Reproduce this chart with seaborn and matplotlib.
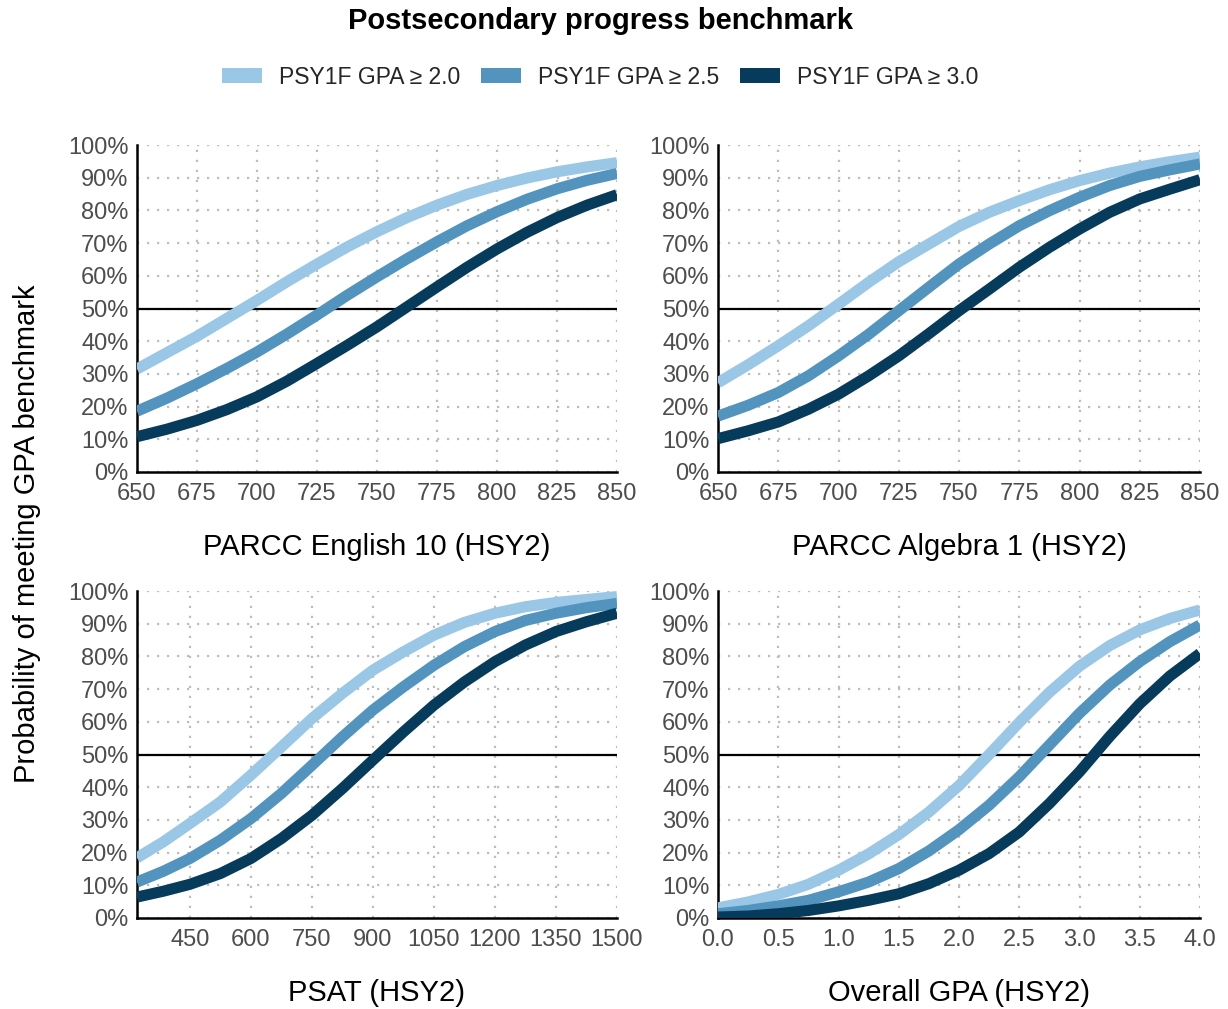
import matplotlib
matplotlib.use("Agg")
import matplotlib.pyplot as plt
import numpy as np
import pandas as pd
import seaborn as sns
from matplotlib.patches import Patch
from matplotlib.ticker import FuncFormatter

# ---------------- data ----------------
series_names = ["PSY1F GPA \u2265 2.0", "PSY1F GPA \u2265 2.5", "PSY1F GPA \u2265 3.0"]
series_colors = ["#9BC7E7", "#5394BF", "#073B5B"]

panel_titles = ["PARCC English 10 (HSY2)", "PARCC Algebra 1 (HSY2)", "PSAT (HSY2)", "Overall GPA (HSY2)"]

eng_x = [650, 662.5, 675, 687.5, 700, 712.5, 725, 737.5, 750, 762.5, 775, 787.5, 800, 812.5, 825, 837.5, 850]
eng_gpa20 = [31.5, 36.5, 41.5, 47.0, 52.5, 58.2, 63.6, 68.8, 73.5, 77.8, 81.6, 84.9, 87.6, 89.9, 91.8, 93.3, 94.6]
eng_gpa25 = [18.6, 22.6, 27.0, 31.7, 36.7, 42.2, 48.0, 54.0, 59.7, 65.2, 70.4, 75.3, 79.6, 83.4, 86.6, 89.2, 91.3]
eng_gpa30 = [10.8, 13.1, 15.8, 19.1, 23.0, 27.8, 33.2, 38.7, 44.4, 50.5, 56.6, 62.6, 68.2, 73.3, 77.8, 81.6, 84.8]

alg_x = [650, 662.5, 675, 687.5, 700, 712.5, 725, 737.5, 750, 762.5, 775, 787.5, 800, 812.5, 825, 837.5, 850]
alg_gpa20 = [27.3, 32.8, 38.6, 44.7, 51.3, 58.0, 64.3, 69.7, 75.1, 79.4, 83.0, 86.3, 89.1, 91.4, 93.3, 94.9, 96.3]
alg_gpa25 = [17.1, 20.4, 24.3, 29.4, 35.5, 42.1, 49.3, 56.5, 63.6, 69.7, 75.3, 79.9, 84.0, 87.6, 90.4, 92.4, 94.2]
alg_gpa30 = [10.2, 12.6, 15.3, 19.2, 23.8, 29.4, 35.5, 42.3, 49.3, 55.9, 62.6, 68.7, 74.3, 79.4, 83.5, 86.5, 89.4]

psat_x = [320, 385, 450, 525, 600, 675, 750, 825, 900, 975, 1050, 1125, 1200, 1275, 1350, 1425, 1500]
psat_gpa20 = [18.4, 23.3, 28.9, 35.5, 43.7, 52.3, 61.0, 68.7, 75.8, 81.4, 86.5, 90.4, 93.2, 95.2, 96.5, 97.4, 98.3]
psat_gpa25 = [11.0, 14.3, 18.2, 23.8, 30.4, 38.1, 46.7, 55.4, 63.6, 70.7, 77.3, 83.0, 87.6, 91.0, 93.2, 94.9, 96.2]
psat_gpa30 = [6.4, 8.2, 10.3, 13.6, 18.2, 24.3, 31.4, 39.6, 48.3, 56.9, 65.1, 72.2, 78.4, 83.5, 87.6, 90.6, 93.2]

gpa_x = [0.0, 0.25, 0.5, 0.75, 1.0, 1.25, 1.5, 1.75, 2.0, 2.25, 2.5, 2.75, 3.0, 3.25, 3.5, 3.75, 4.0]
gpa_gpa20 = [3.1, 4.9, 7.2, 10.3, 14.6, 19.6, 25.5, 32.4, 40.5, 50.0, 59.8, 69.0, 77.0, 83.3, 88.1, 91.6, 94.2]
gpa_gpa25 = [1.3, 2.3, 3.7, 5.4, 8.0, 11.0, 15.1, 20.5, 27.0, 34.5, 43.2, 52.9, 62.6, 71.2, 78.4, 84.5, 89.6]
gpa_gpa30 = [0.3, 0.6, 1.3, 2.3, 3.7, 5.4, 7.4, 10.5, 14.6, 19.7, 26.3, 35.0, 44.7, 55.5, 65.5, 74.0, 80.9]

eng_ticks = [650, 675, 700, 725, 750, 775, 800, 825, 850]
alg_ticks = [650, 675, 700, 725, 750, 775, 800, 825, 850]
psat_ticks = [450, 600, 750, 900, 1050, 1200, 1350, 1500]
gpa_ticks = [0.0, 0.5, 1.0, 1.5, 2.0, 2.5, 3.0, 3.5, 4.0]
y_ticks = [0, 10, 20, 30, 40, 50, 60, 70, 80, 90, 100]


def long_frame(x, a, b, c):
    rows = []
    for name, vals in zip(series_names, [a, b, c]):
        for xi, yi in zip(x, vals):
            rows.append({"x": xi, "p": yi, "series": name})
    return pd.DataFrame(rows)


panels = [
    (long_frame(eng_x, eng_gpa20, eng_gpa25, eng_gpa30), eng_ticks, (650, 850), "{:.0f}"),
    (long_frame(alg_x, alg_gpa20, alg_gpa25, alg_gpa30), alg_ticks, (650, 850), "{:.0f}"),
    (long_frame(psat_x, psat_gpa20, psat_gpa25, psat_gpa30), psat_ticks, (320, 1500), "{:.0f}"),
    (long_frame(gpa_x, gpa_gpa20, gpa_gpa25, gpa_gpa30), gpa_ticks, (0.0, 4.0), "{:.1f}"),
]

# ---------------- style ----------------
sns.set_theme(style="white")
plt.rcParams["font.family"] = ["Liberation Sans", "DejaVu Sans"]

W, H = 1228, 1009
fig = plt.figure(figsize=(W / 100, H / 100), dpi=100)

# axes boxes in pixels: (left, right, top, bottom)
boxes = [
    (137, 617, 145, 472),
    (718, 1200, 145, 472),
    (137, 617, 591, 918),
    (718, 1200, 591, 918),
]

tick_color = "#4D4D4D"
palette = dict(zip(series_names, series_colors))

for (df, ticks, xlim, fmt), (l, r, t, b), title in zip(panels, boxes, panel_titles):
    ax = fig.add_axes([l / W, 1 - b / H, (r - l) / W, (b - t) / H])
    ax.set_xlim(*xlim)
    ax.set_ylim(0, 100)
    ax.set_xticks(ticks)
    ax.set_yticks(y_ticks)
    ax.grid(True, which="major", color="#BDBDBD", linestyle=(0, (1, 3.5)), linewidth=1.6)
    ax.set_axisbelow(True)
    ax.axhline(50, color="black", linewidth=1.6, zorder=1.5)
    sns.lineplot(data=df, x="x", y="p", hue="series", palette=palette,
                 linewidth=8.0, ax=ax, legend=False, zorder=3,
                 solid_capstyle="butt", solid_joinstyle="round")
    ax.xaxis.set_major_formatter(FuncFormatter(lambda v, pos, f=fmt: f.format(v)))
    ax.yaxis.set_major_formatter(FuncFormatter(lambda v, pos: f"{v:.0f}%"))
    for side in ["top", "right"]:
        ax.spines[side].set_visible(False)
    for side in ["left", "bottom"]:
        ax.spines[side].set_color("black")
        ax.spines[side].set_linewidth(1.8)
    ax.tick_params(axis="both", direction="out", length=4, width=1.6, color="black",
                   labelcolor=tick_color, labelsize=17, pad=2)
    ax.tick_params(axis="x", pad=4)
    ax.set_xlabel(title, fontsize=21, color="black", labelpad=20)
    ax.set_ylabel("")

fig.text(0.022, 1 - 534 / H, "Probability of meeting GPA benchmark", rotation=90,
         fontsize=21, ha="center", va="center", color="black")

fig.text(600 / W, 1 - 21 / H, "Postsecondary progress benchmark", fontsize=21,
         fontweight="bold", ha="center", va="center", color="black")

handles = [Patch(facecolor=c, edgecolor="none") for c in series_colors]
fig.legend(handles, series_names, loc="center", bbox_to_anchor=(600 / W, 1 - 77 / H),
           ncol=3, frameon=False, fontsize=16.5, handlelength=1.75, handleheight=0.6,
           handletextpad=0.75, columnspacing=0.9)

fig.savefig("out.png", dpi=100)
